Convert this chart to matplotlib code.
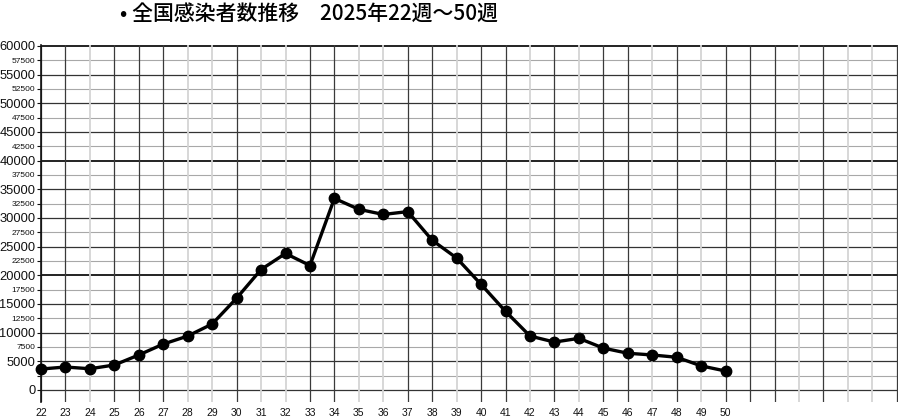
import matplotlib
matplotlib.use("Agg")
import matplotlib.pyplot as plt
import numpy as np

# ---- data ----
weeks = list(range(22, 51))
cases = [3650, 4000, 3700, 4350, 6100, 8000, 9400, 11500, 16000, 21000,
         23800, 21700, 33400, 31500, 30600, 31100, 26100, 23000, 18400, 13700,
         9400, 8350, 9000, 7300, 6400, 6100, 5700, 4200, 3300]
title = "• 全国感染者数推移　2025年22週～50週"
grid_weeks = list(range(22, 58))
light_weeks = [24, 28, 29, 31, 32, 35, 36, 39, 42, 44, 47, 49, 53, 55, 56]
y_levels = list(range(0, 60001, 2500))
y_labels = ["" if v == 2500 else str(v) for v in y_levels]

plt.rcParams['font.family'] = ['Noto Sans CJK JP', 'DejaVu Sans']
narrow = ['Liberation Sans', 'DejaVu Sans']

fig = plt.figure(figsize=(9, 4.17), dpi=100)
ax = fig.add_axes([41/900, 1-402/417, (898-41)/900, (402-45)/417])
ax.set_xlim(22, 57.05)
ax.set_ylim(-2100, 60150)

# horizontal grid
for v in y_levels:
    if v in (20000, 40000, 60000):
        ax.axhline(v, color='#111111', lw=1.3, zorder=1)
    elif v % 5000 == 0:
        ax.axhline(v, color='#333333', lw=0.9, zorder=1)
    else:
        ax.axhline(v, color='#a8a8a8', lw=0.8, zorder=1)
# vertical grid
for w in grid_weeks:
    if w in light_weeks:
        ax.axvline(w, color='#d4d4d4', lw=1.3, zorder=1)
    else:
        ax.axvline(w, color='#3a3a3a', lw=0.9, zorder=1)

ax.plot(weeks, cases, color='black', lw=2.4, marker='o', markersize=7.5,
        zorder=3, clip_on=False)

for s in ['top', 'right', 'bottom']:
    ax.spines[s].set_visible(False)
ax.spines['left'].set_color('#111111')
ax.spines['left'].set_linewidth(1.2)

ax.set_yticks(y_levels)
ax.set_yticklabels(y_labels)
for v, lab in zip(y_levels, ax.get_yticklabels()):
    lab.set_family(narrow)
    if v % 5000 == 0:
        lab.set_fontsize(9.3)
    else:
        lab.set_fontsize(6)
ax.tick_params(axis='y', length=3, width=0.8, pad=1, colors='#111111')

ax.set_xticks(weeks)
ax.set_xticklabels([str(w) for w in weeks])
for lab in ax.get_xticklabels():
    lab.set_family(narrow)
    lab.set_fontsize(7.5)
ax.tick_params(axis='x', length=0, pad=4, colors='#111111')

fig.text(120/900, 1-14/417, title, fontsize=15, ha='left', va='center',
         color='black', fontweight='medium')

fig.savefig('out.png', dpi=100)
